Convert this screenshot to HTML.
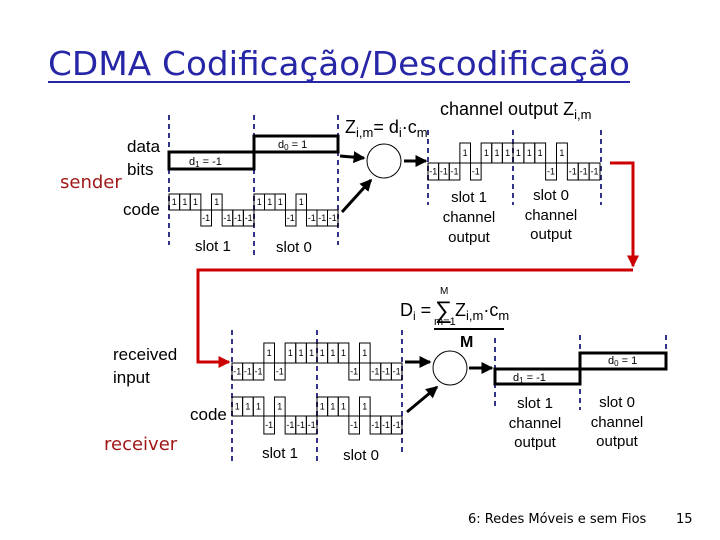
<!DOCTYPE html>
<html><head><meta charset="utf-8"><style>
html,body{margin:0;padding:0;background:#fff;}
svg{display:block;}
text{font-family:"Liberation Sans",Arial,sans-serif;}
.dv{font-family:"DejaVu Sans",sans-serif;}
</style></head><body>
<svg id="s" width="720" height="540" viewBox="0 0 720 540" xmlns="http://www.w3.org/2000/svg">
<defs>
<marker id="ab" markerWidth="4" markerHeight="4" refX="3.5" refY="2" orient="auto" markerUnits="strokeWidth"><path d="M0,0 L4,2 L0,4 z" fill="#000"/></marker>
<marker id="ar" markerWidth="4" markerHeight="4" refX="3.5" refY="2" orient="auto" markerUnits="strokeWidth"><path d="M0,0 L4,2 L0,4 z" fill="#c00"/></marker>
</defs>
<text class="dv" x="48" y="75" font-size="33" fill="#2626a6" textLength="582" lengthAdjust="spacingAndGlyphs">CDMA Codificação/Descodificação</text>
<line x1="48" y1="82" x2="630" y2="82" stroke="#2626a6" stroke-width="2"/>

<g stroke="#33338a" stroke-width="2" stroke-dasharray="5,4">
<line x1="169" y1="115" x2="169" y2="245"/><line x1="254" y1="115" x2="254" y2="255"/><line x1="338" y1="115" x2="338" y2="245"/>
<line x1="428" y1="130" x2="428" y2="205"/><line x1="513" y1="130" x2="513" y2="205"/><line x1="601" y1="130" x2="601" y2="205"/>
<line x1="232" y1="330" x2="232" y2="465"/><line x1="317" y1="330" x2="317" y2="465"/><line x1="402" y1="330" x2="402" y2="455"/>
<line x1="495" y1="338" x2="495" y2="410"/><line x1="580" y1="335" x2="580" y2="410"/><line x1="666" y1="335" x2="666" y2="370"/>
</g>

<text class="dv" x="60" y="188" font-size="18" fill="#a01818">sender</text>
<text x="127" y="152" font-size="17">data</text>
<text x="127" y="175" font-size="17">bits</text>
<text x="123" y="215" font-size="17">code</text>
<rect x="169" y="152" width="85" height="17" fill="none" stroke="#000" stroke-width="3"/>
<rect x="254" y="136" width="84" height="16" fill="none" stroke="#000" stroke-width="3"/>
<text x="189" y="165" font-size="11">d<tspan font-size="8" dy="2">1</tspan><tspan dy="-2"> = -1</tspan></text>
<text x="278" y="148" font-size="11">d<tspan font-size="8" dy="2">0</tspan><tspan dy="-2"> = 1</tspan></text>
<text x="195" y="251" font-size="15">slot 1</text>
<text x="276" y="252" font-size="15">slot 0</text>

<text x="345" y="133" font-size="18">Z<tspan font-size="13" dy="4">i,m</tspan><tspan dy="-4">= d</tspan><tspan font-size="13" dy="4">i</tspan><tspan dy="-4">·c</tspan><tspan font-size="13" dy="4">m</tspan></text>
<text x="440" y="115" font-size="18">channel output Z<tspan font-size="13" dy="4">i,m</tspan></text>
<circle cx="384" cy="161" r="17" fill="none" stroke="#000" stroke-width="1"/>
<line x1="340" y1="156" x2="364" y2="158" stroke="#000" stroke-width="3" marker-end="url(#ab)"/>
<line x1="342" y1="212" x2="371" y2="180" stroke="#000" stroke-width="3" marker-end="url(#ab)"/>
<line x1="404" y1="161" x2="426" y2="161" stroke="#000" stroke-width="3" marker-end="url(#ab)"/>
<g font-size="15" text-anchor="middle">
<text x="469" y="202">slot 1</text><text x="469" y="222">channel</text><text x="469" y="242">output</text>
<text x="551" y="200">slot 0</text><text x="551" y="220">channel</text><text x="551" y="239">output</text>
</g>

<polyline points="610,163 633,163 633,266" fill="none" stroke="#c00" stroke-width="3" marker-end="url(#ar)"/>
<polyline points="633,270 198,270 198,362 229,362" fill="none" stroke="#c00" stroke-width="3" marker-end="url(#ar)"/>

<text x="113" y="360" font-size="17">received</text>
<text x="113" y="383" font-size="17">input</text>
<text x="190" y="420" font-size="17">code</text>
<text class="dv" x="104" y="450" font-size="18" fill="#a01818">receiver</text>
<text x="280" y="458" font-size="15" text-anchor="middle">slot 1</text>
<text x="361" y="460" font-size="15" text-anchor="middle">slot 0</text>

<text x="400" y="316" font-size="18">D<tspan font-size="12" dy="4">i</tspan><tspan dy="-4"> = </tspan></text>
<text x="435" y="318" font-size="24">∑</text>
<text x="440" y="294" font-size="10">M</text>
<text x="434" y="325" font-size="11">m=1</text>
<text x="455" y="316" font-size="18">Z<tspan font-size="13" dy="4">i,m</tspan><tspan dy="-4">·c</tspan><tspan font-size="13" dy="4">m</tspan></text>
<line x1="434" y1="329" x2="504" y2="329" stroke="#000" stroke-width="2"/>
<text x="460" y="347" font-size="16" font-weight="bold">M</text>

<circle cx="450" cy="368" r="17" fill="none" stroke="#000" stroke-width="1"/>
<line x1="405" y1="362" x2="430" y2="362" stroke="#000" stroke-width="3" marker-end="url(#ab)"/>
<line x1="407" y1="412" x2="437" y2="387" stroke="#000" stroke-width="3" marker-end="url(#ab)"/>
<line x1="469" y1="368" x2="492" y2="368" stroke="#000" stroke-width="3" marker-end="url(#ab)"/>
<rect x="495" y="369" width="85" height="15" fill="none" stroke="#000" stroke-width="3"/>
<rect x="580" y="353" width="86" height="16" fill="none" stroke="#000" stroke-width="3"/>
<text x="513" y="381" font-size="11">d<tspan font-size="8" dy="2">1</tspan><tspan dy="-2"> = -1</tspan></text>
<text x="608" y="364" font-size="11">d<tspan font-size="8" dy="2">0</tspan><tspan dy="-2"> = 1</tspan></text>
<g font-size="15" text-anchor="middle">
<text x="535" y="408">slot 1</text><text x="535" y="428">channel</text><text x="535" y="447">output</text>
<text x="617" y="407">slot 0</text><text x="617" y="427">channel</text><text x="617" y="446">output</text>
</g>

<text class="dv" x="468" y="523" font-size="13">6: Redes Móveis e sem Fios</text>
<text class="dv" x="676" y="523" font-size="13">15</text>
<g id="w"></g>
</svg>
<script>
var g=document.getElementById('w'),NS='http://www.w3.org/2000/svg';
var c=[1,1,1,-1,1,-1,-1,-1],nc=c.map(function(v){return -v;});
function wave(x0,sw,y0,hu,hd,vals){
 var w=sw/8;
 vals.forEach(function(v,i){
  var x=x0+i*w,r=document.createElementNS(NS,'rect');
  r.setAttribute('x',x);r.setAttribute('width',w);
  if(v>0){r.setAttribute('y',y0-hu);r.setAttribute('height',hu);}else{r.setAttribute('y',y0);r.setAttribute('height',hd);}
  r.setAttribute('fill','none');r.setAttribute('stroke','#000');r.setAttribute('stroke-width','1');
  g.appendChild(r);
  var t=document.createElementNS(NS,'text');
  t.setAttribute('x',x+w/2);t.setAttribute('text-anchor','middle');t.setAttribute('font-size','9');
  t.setAttribute('y',v>0?y0-hu/2+3:y0+hd/2+3);t.textContent=v>0?'1':'-1';g.appendChild(t);
 });
}
wave(169,85,210,16,16,c);wave(254,84,210,16,16,c);
wave(428,85,163,20,17,nc);wave(513,87,163,20,17,c);
wave(232,85,363,20,17,nc);wave(317,85,363,20,17,c);
wave(232,85,416,19,18,c);wave(317,85,416,19,18,c);
</script>
</body></html>
